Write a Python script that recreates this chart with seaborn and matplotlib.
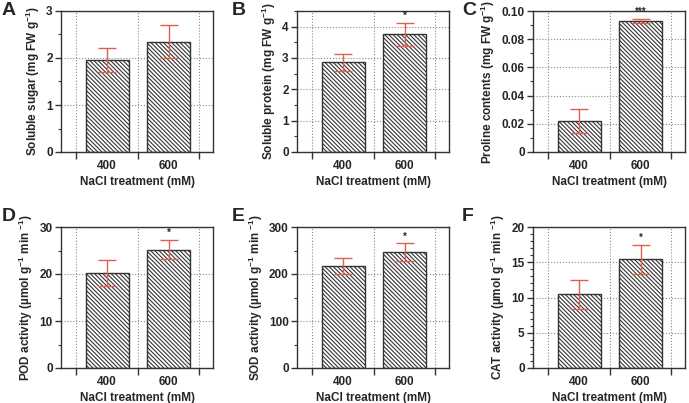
import numpy as np
import pandas as pd
import seaborn as sns
import matplotlib.pyplot as plt
from matplotlib.ticker import MultipleLocator, FixedLocator, FuncFormatter

# ── data ──────────────────────────────────────────────────────────────────
treatments = ["400", "600"]

sugar_mean = [1.96, 2.35]
sugar_sd = [0.26, 0.36]
protein_mean = [2.87, 3.75]
protein_sd = [0.27, 0.37]
proline_mean = [0.022, 0.093]
proline_sd = [0.0087, 0.0015]
pod_mean = [20.2, 25.2]
pod_sd = [2.7, 2.0]
sod_mean = [217, 246]
sod_sd = [17, 19]
cat_mean = [10.45, 15.4]
cat_sd = [2.05, 2.1]

sugar_sig = ["", ""]
protein_sig = ["", "*"]
proline_sig = ["", "***"]
pod_sig = ["", "*"]
sod_sig = ["", "*"]
cat_sig = ["", "*"]

panel_letters = ["A", "B", "C", "D", "E", "F"]
ylabels = [
    "Soluble sugar (mg FW g$^{-1}$)",
    "Soluble protein (mg FW g$^{-1}$)",
    "Proline contents (mg FW g$^{-1}$)",
    "POD activity (\u00b5mol g$^{-1}$ min $^{-1}$)",
    "SOD activity (\u00b5mol g$^{-1}$ min $^{-1}$)",
    "CAT activity (\u00b5mol g$^{-1}$ min $^{-1}$)",
]
xlabel = "NaCl treatment (mM)"

# ── style ────────────────────────────────────────────────────────────────
sns.set_style("ticks")
plt.rcParams["font.family"] = ["Liberation Sans", "DejaVu Sans"]
plt.rcParams["font.weight"] = "bold"
plt.rcParams["axes.labelweight"] = "bold"
plt.rcParams["mathtext.fontset"] = "custom"
plt.rcParams["mathtext.rm"] = "Liberation Sans:bold"
plt.rcParams["mathtext.it"] = "Liberation Sans:bold"
plt.rcParams["mathtext.bf"] = "Liberation Sans:bold"
plt.rcParams["hatch.linewidth"] = 0.8
plt.rcParams["hatch.color"] = "#222222"

EDGE = "#333333"
ERR = "#e0604f"
GRID = "#8a8a8a"

panels = [
    (sugar_mean, sugar_sd, sugar_sig, (0, 3), 1, 0.5),
    (protein_mean, protein_sd, protein_sig, (0, 4.5), 1, 0.5),
    (proline_mean, proline_sd, proline_sig, (0, 0.10), 0.02, 0.01),
    (pod_mean, pod_sd, pod_sig, (0, 30), 10, 5),
    (sod_mean, sod_sd, sod_sig, (0, 300), 100, 50),
    (cat_mean, cat_sd, cat_sig, (0, 20), 5, 1),
]

W, H = 689, 403
fig = plt.figure(figsize=(W / 100, H / 100), dpi=100)

col_left = [61, 297, 533]
row_top = [11, 227]
ax_w, ax_h = 152, 141
letter_pos = [(2, 2), (232, 2), (462, 2), (2, 208), (232, 208), (462, 208)]

for i, (mean, sd, sig, ylim, major, minor) in enumerate(panels):
    r, c = divmod(i, 3)
    left = col_left[c] / W
    bottom = 1 - (row_top[r] + ax_h) / H
    ax = fig.add_axes([left, bottom, ax_w / W, ax_h / H])

    df = pd.DataFrame({"treatment": treatments, "value": mean})
    sns.barplot(data=df, x="treatment", y="value", ax=ax, width=0.7,
                color="white", saturation=1, errorbar=None,
                edgecolor=EDGE, linewidth=1.0, hatch="\\" * 8, zorder=2)
    ax.errorbar(np.arange(len(mean)), mean, yerr=sd, fmt="none",
                ecolor=ERR, elinewidth=1.0, capsize=6.5, capthick=1.0, zorder=3)

    for xi, (m, s, star) in enumerate(zip(mean, sd, sig)):
        if star:
            ax.annotate(star, (xi, m + s), xytext=(0, 1.5), textcoords="offset points",
                        ha="center", va="bottom", fontsize=7, fontweight="bold")

    ax.set_xlim(-0.75, 1.72)
    ax.set_ylim(*ylim)
    ax.yaxis.set_major_locator(MultipleLocator(major))
    ax.yaxis.set_minor_locator(MultipleLocator(minor))
    if major < 0.1:
        ax.yaxis.set_major_formatter(FuncFormatter(lambda v, p: "0" if abs(v) < 1e-9 else f"{v:.2f}"))
    else:
        ax.yaxis.set_major_formatter(FuncFormatter(lambda v, p: f"{v:g}"))
    ax.xaxis.set_minor_locator(FixedLocator([-0.5, 0.5, 1.5]))

    ax.tick_params(axis="x", which="major", length=0, labelsize=8.5, pad=6)
    ax.tick_params(axis="x", which="minor", length=5, width=1, color=EDGE)
    ax.tick_params(axis="y", which="major", length=4, width=1, color=EDGE, labelsize=8.5, pad=2)
    ax.tick_params(axis="y", which="minor", length=2.5, width=0.8, color=EDGE)

    ax.grid(which="major", axis="y", ls=":", lw=0.8, color=GRID)
    ax.grid(which="minor", axis="x", ls=":", lw=0.8, color=GRID)
    ax.set_axisbelow(True)

    for sp in ax.spines.values():
        sp.set_visible(True)
        sp.set_color(EDGE)
        sp.set_linewidth(1.0)

    ax.set_xlabel(xlabel, fontsize=8.5, labelpad=3)
    ax.set_ylabel(ylabels[i], fontsize=8.5, labelpad=3)

    lx, ly = letter_pos[i]
    fig.text(lx / W, 1 - ly / H, panel_letters[i], fontsize=14, fontweight="bold",
             ha="left", va="top")

fig.savefig("out.png", dpi=100)
